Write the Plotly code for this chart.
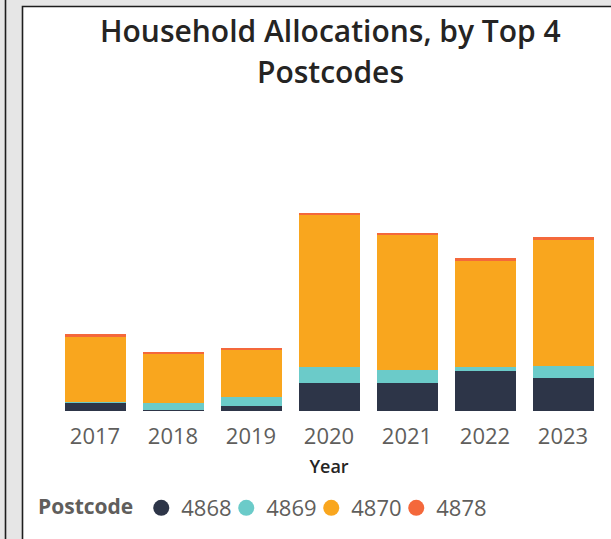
import plotly.graph_objects as go

years = ["2017", "2018", "2019", "2020", "2021", "2022", "2023"]
postcodes = ["4868", "4869", "4870", "4878"]
v4868 = [8.5, 1, 5, 28, 28, 39.7, 32.7]
v4869 = [1, 7, 8.7, 15.7, 12.7, 4, 12]
v4870 = [64.7, 49, 48, 152.6, 135.6, 106.3, 126]
v4878 = [2.7, 2, 1.6, 1.7, 2, 2.7, 3]
colors = ["#2D3548", "#6BCBC9", "#F9A61E", "#F4683B"]

series = [v4868, v4869, v4870, v4878]

W, H = 611, 539
L, R, T, B = 56, 9, 110, 128
pw, ph = W - L - R, H - T - B

def px(x):
    return (x - L) / pw

def py(y):
    return (H - B - y) / ph

FONT = "Open Sans"

fig = go.Figure()
for name, vals, c in zip(postcodes, series, colors):
    fig.add_trace(go.Bar(x=years, y=vals, name=name, marker=dict(color=c, line=dict(width=0)),
                         showlegend=False, hoverinfo="skip"))
for name, c in zip(postcodes, colors):
    fig.add_trace(go.Scatter(x=[None], y=[None], mode="markers", name=name,
                             marker=dict(symbol="circle", size=16, color=c), showlegend=True))
# spacer entry so the last legend label is not clipped
fig.add_trace(go.Scatter(x=[None], y=[None], mode="markers", name=" ",
                         marker=dict(size=1, color="rgba(0,0,0,0)"), showlegend=True))

shapes = [
    dict(type="rect", xref="paper", yref="paper", x0=px(22.5), x1=px(640), y0=py(6.5), y1=py(560),
         fillcolor="white", line=dict(color="#1E1E1E", width=1.6), layer="below"),
    dict(type="line", xref="paper", yref="paper", x0=px(5.5), x1=px(5.5), y0=py(-10), y1=py(560),
         line=dict(color="#1E1E1E", width=1.6), layer="below"),
]

annotations = [
    dict(text="Household Allocations, by Top 4", xref="paper", yref="paper", x=px(330.5), y=py(31),
         xanchor="center", yanchor="middle", showarrow=False,
         font=dict(family=FONT, size=30, color="#252423", weight=600)),
    dict(text="Postcodes", xref="paper", yref="paper", x=px(330.5), y=py(71.5),
         xanchor="center", yanchor="middle", showarrow=False,
         font=dict(family=FONT, size=30, color="#252423", weight=600)),
]

fig.update_layout(
    width=W, height=H,
    margin=dict(l=L, r=R, t=T, b=B, pad=0),
    paper_bgcolor="#E6E6E6",
    plot_bgcolor="rgba(0,0,0,0)",
    barmode="stack",
    bargap=0.218,
    shapes=shapes,
    annotations=annotations,
    font=dict(family=FONT, color="#605E5C"),
    xaxis=dict(type="category", showline=False, showgrid=False, zeroline=False, ticks="",
               tickfont=dict(family=FONT, size=22, color="#605E5C"),
               ticklabelstandoff=10,
               title=dict(text="Year", font=dict(family=FONT, size=18, color="#252423", weight=600),
                          standoff=11)),
    yaxis=dict(visible=False, range=[0, ph], fixedrange=True),
    legend=dict(orientation="h", x=px(36), xanchor="left", y=py(508), yanchor="middle",
                traceorder="normal",
                bgcolor="rgba(0,0,0,0)", font=dict(family=FONT, size=22, color="#605E5C"),
                title=dict(text="Postcode", font=dict(family=FONT, size=21, color="#605E5C", weight=700)),
                itemwidth=30, tracegroupgap=0, entrywidth=40, entrywidthmode="pixels"),
)

fig.write_html("out.html", config={"displayModeBar": False},
               post_script="document.body.style.margin='0';document.body.style.overflow='hidden';")
